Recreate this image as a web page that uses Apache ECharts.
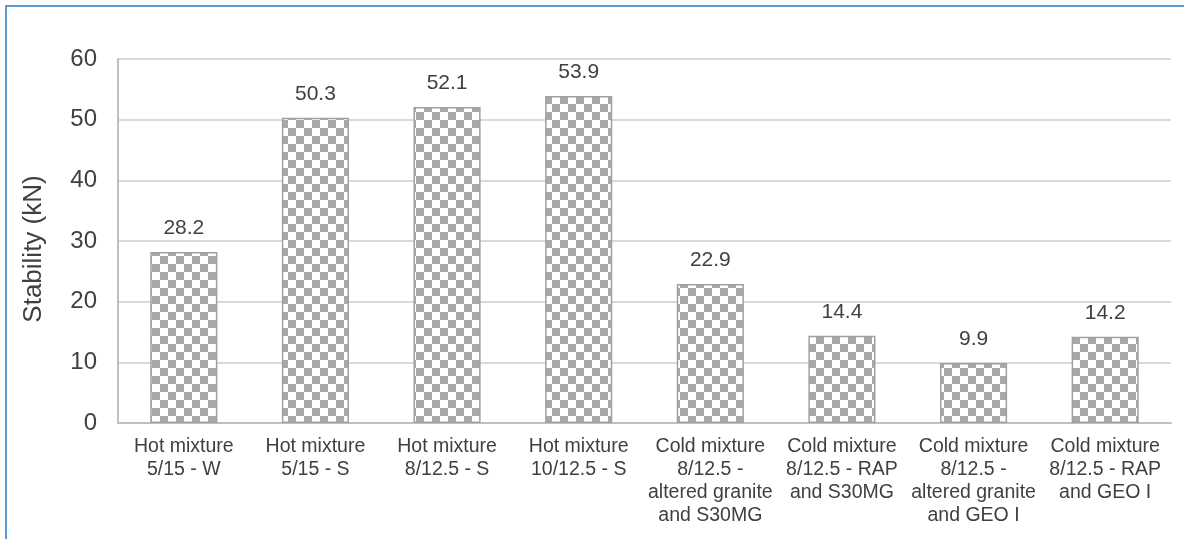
<!DOCTYPE html>
<html>
<head>
<meta charset="utf-8">
<style>
  html, body { margin: 0; padding: 0; background: #fff; }
  #frame { position: absolute; left: 5px; top: 5px; width: 1179px; height: 534px;
           border-left: 2px solid #5b9bd5; border-top: 2px solid #5b9bd5; box-sizing: border-box; }
  #chart { position: absolute; left: 0; top: 0; width: 1184px; height: 539px; }
</style>
<script src="https://cdn.jsdelivr.net/npm/echarts@6/dist/echarts.min.js"></script>
</head>
<body>
<div id="frame"></div>
<div id="chart"></div>
<script>
// Marshall stability of the tested mixtures
const categories = [
  'Hot mixture\n5/15 - W',
  'Hot mixture\n5/15 - S',
  'Hot mixture\n8/12.5 - S',
  'Hot mixture\n10/12.5 - S',
  'Cold mixture\n8/12.5 -\naltered granite\nand S30MG',
  'Cold mixture\n8/12.5 - RAP\nand S30MG',
  'Cold mixture\n8/12.5 -\naltered granite\nand GEO I',
  'Cold mixture\n8/12.5 - RAP\nand GEO I'
];
const stability = [28.2, 50.3, 52.1, 53.9, 22.9, 14.4, 9.9, 14.2];
const yTicks = [0, 10, 20, 30, 40, 50, 60];

// checkerboard fill for the bars
function checker(size, dark, light) {
  const c = document.createElement('canvas');
  c.width = size * 2; c.height = size * 2;
  const g = c.getContext('2d');
  g.fillStyle = light; g.fillRect(0, 0, size * 2, size * 2);
  g.fillStyle = dark;
  g.fillRect(0, 0, size, size);
  g.fillRect(size, size, size, size);
  return c;
}

const chart = echarts.init(document.getElementById('chart'), null, { renderer: 'canvas' });
const font = 'Liberation Sans, Arial, sans-serif';
chart.setOption({
  animation: false,
  grid: { left: 118, right: 13, top: 59, bottom: 116, containLabel: false },
  xAxis: {
    type: 'category',
    data: categories,
    axisTick: { show: false },
    axisLine: { lineStyle: { color: '#bfbfbf', width: 2 } },
    axisLabel: { color: '#404040', fontFamily: font, fontSize: 19.5, lineHeight: 23,
                 margin: 12, interval: 0, align: 'center' }
  },
  yAxis: {
    type: 'value',
    min: yTicks[0], max: yTicks[yTicks.length - 1], interval: 10,
    name: 'Stability (kN)',
    nameLocation: 'middle',
    nameGap: 71,
    nameTextStyle: { color: '#404040', fontFamily: font, fontSize: 26, padding: [0, 16, 0, 0] },
    axisLine: { show: true, lineStyle: { color: '#bfbfbf', width: 2 } },
    axisTick: { show: false },
    splitLine: { lineStyle: { color: '#d9d9d9', width: 2 } },
    axisLabel: { color: '#404040', fontFamily: font, fontSize: 24, margin: 21 }
  },
  series: [{
    type: 'bar',
    data: stability,
    barWidth: '51%',
    itemStyle: {
      color: { image: checker(8, '#a8a8a8', '#ffffff'), repeat: 'repeat' },
      borderColor: '#a0a0a0',
      borderWidth: 1.5
    },
    label: {
      show: true, position: 'top', distance: 13,
      color: '#404040', fontFamily: font, fontSize: 21,
      formatter: p => p.value.toFixed(1)
    }
  }]
});
</script>
</body>
</html>
